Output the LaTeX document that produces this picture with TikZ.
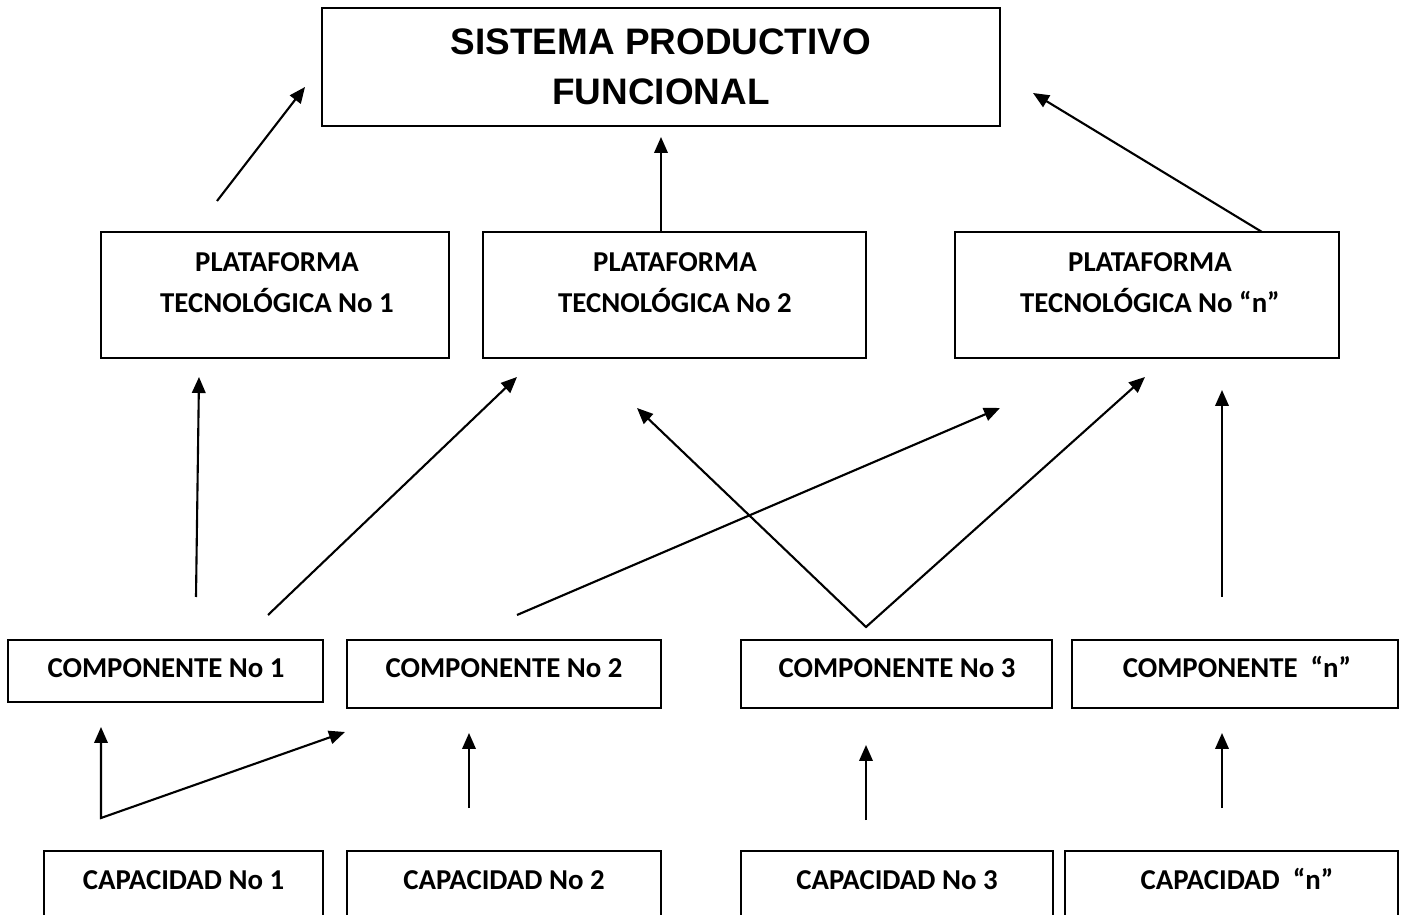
\documentclass[tikz,border=0pt]{standalone}
\usepackage{fontspec}
\setmainfont{Carlito}
\newfontfamily\titlefont{Liberation Sans}
\usetikzlibrary{arrows.meta}

\tikzset{
  caja/.style={draw, line width=1.3pt, inner sep=0pt},
  texto/.style={font=\fontsize{16.4}{23.3}\selectfont\bfseries, align=center, inner sep=0pt},
  linea/.style={texto, anchor=base},
  flecha/.style={line width=1.2pt, -{Triangle[length=0.32cm, width=0.27cm]}},
  dobleflecha/.style={line width=1.2pt, {Triangle[length=0.32cm, width=0.27cm]}-{Triangle[length=0.32cm, width=0.27cm]}}
}

\begin{document}
\begin{tikzpicture}[x=0.02cm, y=-0.02cm]
  \useasboundingbox (0,0) rectangle (1404,915);
  \clip (0,0) rectangle (1404,915);

  % Sistema
  \node[caja, minimum width=13.56cm, minimum height=2.36cm, align=center,
        font=\titlefont\fontsize{21}{28.5}\selectfont\bfseries] (sis) at (661,67) {SISTEMA PRODUCTIVO\\FUNCIONAL};

  % Plataformas
  \node[caja, minimum width=6.96cm, minimum height=2.52cm] (plat1) at (275,295) {};
  \node[caja, minimum width=7.66cm, minimum height=2.52cm] (plat2) at (674.5,295) {};
  \node[caja, minimum width=7.68cm, minimum height=2.52cm] (platn) at (1147,295) {};
  \node[texto] (plat1t) at (277,283) {PLATAFORMA\\TECNOLÓGICA No 1};
  \node[texto] (plat2t) at (675,283) {PLATAFORMA\\TECNOLÓGICA No 2};
  \node[texto] (platnt) at (1150,283) {PLATAFORMA\\TECNOLÓGICA No “n”};

  % Componentes
  \node[caja, minimum width=6.30cm, minimum height=1.24cm] (comp1) at (165.5,671) {};
  \node[caja, minimum width=6.28cm, minimum height=1.36cm] (comp2) at (504,674) {};
  \node[caja, minimum width=6.22cm, minimum height=1.36cm] (comp3) at (896.5,674) {};
  \node[caja, minimum width=6.52cm, minimum height=1.36cm] (compn) at (1235,674) {};
  \node[linea] (comp1t) at (166,677) {COMPONENTE No 1};
  \node[linea] (comp2t) at (504,677) {COMPONENTE No 2};
  \node[linea] (comp3t) at (897,677) {COMPONENTE No 3};
  \node[linea] (compnt) at (1237,677) {COMPONENTE~~“n”};

  % Capacidades
  \node[caja, anchor=north, minimum width=5.58cm, minimum height=2.4cm] (cap1) at (183.5,850) {};
  \node[caja, anchor=north, minimum width=6.28cm, minimum height=2.4cm] (cap2) at (504,850) {};
  \node[caja, anchor=north, minimum width=6.24cm, minimum height=2.4cm] (cap3) at (897,850) {};
  \node[caja, anchor=north, minimum width=6.66cm, minimum height=2.4cm] (capn) at (1231.5,850) {};
  \node[linea] (cap1t) at (183.5,889) {CAPACIDAD No 1};
  \node[linea] (cap2t) at (504,889) {CAPACIDAD No 2};
  \node[linea] (cap3t) at (897,889) {CAPACIDAD No 3};
  \node[linea] (capnt) at (1237,889) {CAPACIDAD~~“n”};

  % Puntas de las flechas
  \coordinate (p1a) at (217,201);  \coordinate (p1b) at (305,87);
  \coordinate (p2a) at (661,232);  \coordinate (p2b) at (661,137);
  \coordinate (pna) at (1262,232); \coordinate (pnb) at (1033,93);
  \coordinate (c1a) at (196,597);  \coordinate (c1b) at (199,377);
  \coordinate (c1c) at (268,615);  \coordinate (c1d) at (517,377);
  \coordinate (c2a) at (517,615);  \coordinate (c2b) at (1000,408);
  \coordinate (c3v) at (866,627);
  \coordinate (c3b) at (637,408);  \coordinate (c3c) at (1145,377);
  \coordinate (cna) at (1222,597); \coordinate (cnb) at (1222,390);
  \coordinate (k1v) at (101,818);
  \coordinate (k1b) at (101,727);  \coordinate (k1c) at (345,732);
  \coordinate (k2a) at (469,808);  \coordinate (k2b) at (469,733);
  \coordinate (k3a) at (866,820);  \coordinate (k3b) at (866,745);
  \coordinate (kna) at (1222,808); \coordinate (knb) at (1222,733);

  % Flechas
  \draw[flecha] (p1a) -- (p1b);
  \draw[flecha] (p2a) -- (p2b);
  \draw[flecha] (pna) -- (pnb);
  \draw[flecha] (c1a) -- (c1b);
  \draw[flecha] (c1c) -- (c1d);
  \draw[flecha] (c2a) -- (c2b);
  \draw[dobleflecha] (c3b) -- (c3v) -- (c3c);
  \draw[flecha] (cna) -- (cnb);
  \draw[dobleflecha] (k1b) -- (k1v) -- (k1c);
  \draw[flecha] (k2a) -- (k2b);
  \draw[flecha] (k3a) -- (k3b);
  \draw[flecha] (kna) -- (knb);
\end{tikzpicture}
\end{document}
